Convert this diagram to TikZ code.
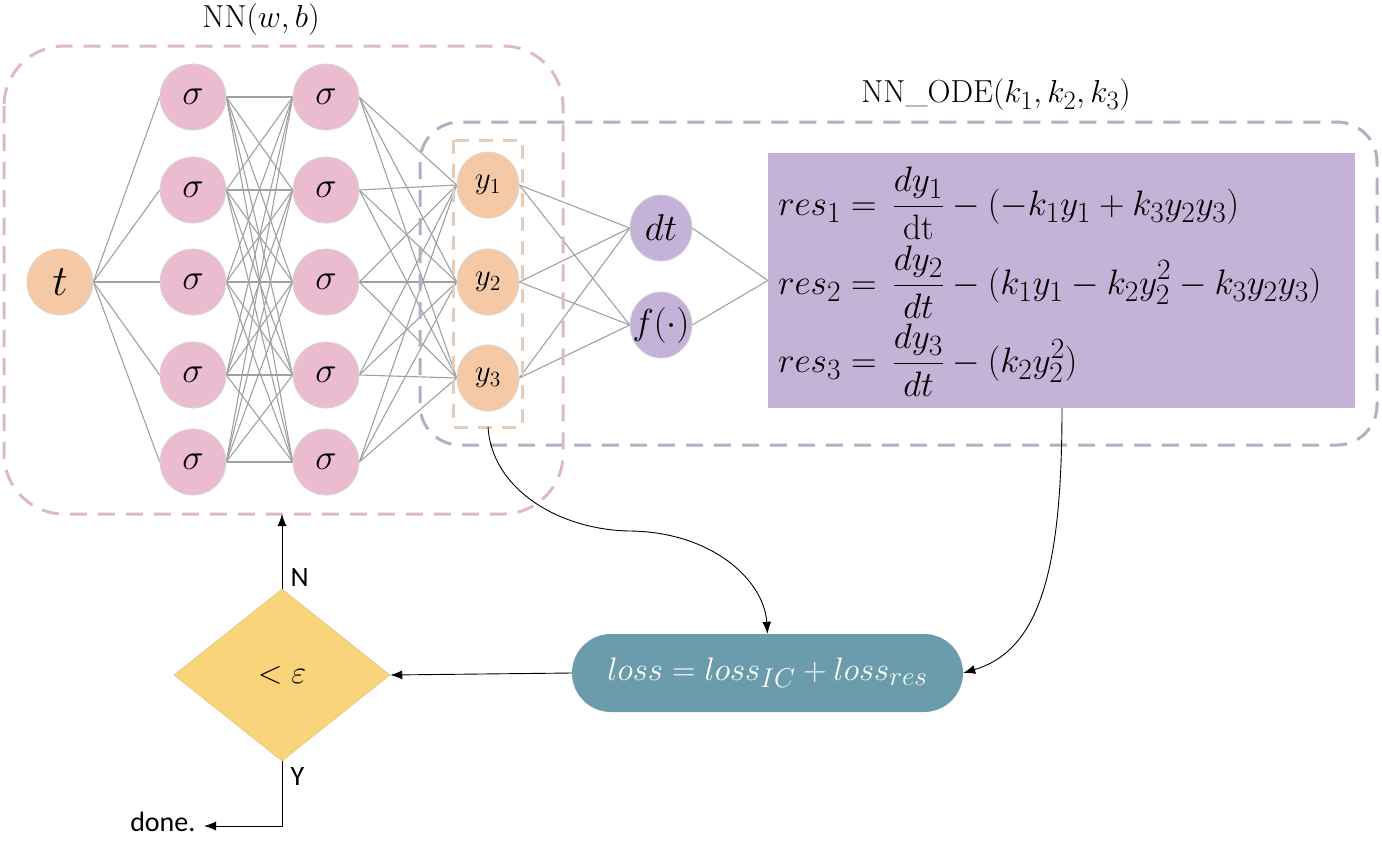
\documentclass[tikz,border=0pt]{standalone}
\usepackage{amsmath}
\usepackage{fontspec}
\setsansfont{Carlito}
\usetikzlibrary{shapes.geometric,arrows.meta}
\definecolor{pinkn}{HTML}{EBBCCF}
\definecolor{orangen}{HTML}{F5C9A6}
\definecolor{purplen}{HTML}{C5B2D8}
\definecolor{rectc}{HTML}{C4B3D6}
\definecolor{lossc}{HTML}{6B9CAB}
\definecolor{diac}{HTML}{F9D47A}
\definecolor{nnbox}{HTML}{DDB8C8}
\definecolor{odebox}{HTML}{B4ADC4}
\definecolor{ybox}{HTML}{E6CDB9}
\definecolor{wire}{HTML}{A0A0A0}
\tikzset{
  neuron/.style={circle,draw=white!85!black,line width=0.6pt,inner sep=0pt,minimum size=66pt,font=\fontsize{24.88}{28}\selectfont},
  sig/.style={neuron,fill=pinkn},
  inn/.style={neuron,fill=orangen},
  outn/.style={ellipse,draw=white!85!black,line width=0.6pt,fill=orangen,inner sep=0pt,minimum width=62pt,minimum height=66pt,font=\fontsize{20.74}{24}\selectfont},
  odn/.style={ellipse,draw=white!85!black,line width=0.6pt,fill=purplen,inner sep=0pt,minimum width=62pt,minimum height=66pt,font=\fontsize{24.88}{28}\selectfont},
  wireline/.style={draw=wire,line width=1.1pt},
  dashbox/.style={line width=3pt,dash pattern=on 17pt off 11pt},
  flow/.style={draw=black,line width=0.9pt,-{Latex[length=12pt,width=9pt]}},
  eq/.style={anchor=west,font=\fontsize{24.88}{28}\selectfont,inner sep=0pt},
  lbl/.style={font=\sffamily\fontsize{28}{32}\selectfont}
}
\newcommand{\Sg}{\scalebox{1.45}{$\sigma$}}
\newcommand{\Fdot}{\scalebox{1.45}{$f(\cdot)$}}
\begin{document}
\begin{tikzpicture}[x=1pt,y=-1pt]
\useasboundingbox (0,0) rectangle (1382,855);
% nodes
\node[inn] (t) at (60,282) {\scalebox{1.75}{$t$}};
\foreach \i/\yy in {1/97,2/190,3/282,4/375,5/462}{
  \node[sig] (a\i) at (193,\yy) {\Sg};
  \node[sig] (b\i) at (326,\yy) {\Sg};
}
\node[outn] (y1) at (488,185) {\scalebox{1.5}{$y_1$}};
\node[outn] (y2) at (488,282) {\scalebox{1.5}{$y_2$}};
\node[outn] (y3) at (488,378) {\scalebox{1.5}{$y_3$}};
\node[odn] (dt) at (661,228) {\scalebox{1.5}{$dt$}};
\node[odn,label={[font=\fontsize{24.88}{28}\selectfont,inner sep=0pt]center:\Fdot}] (f) at (661,325) {};
\node[draw=none,fill=rectc,minimum width=587pt,minimum height=255pt,inner sep=0pt] (res) at (1061.5,280.5) {};
% wires
\foreach \i in {1,...,5}{
  \draw[wireline] (t.east) -- (a\i.west);
  \foreach \j in {1,...,5}{ \draw[wireline] (a\i.east) -- (b\j.west); }
  \foreach \k in {1,2,3}{ \draw[wireline] (b\i.east) -- (y\k.west); }
}
\foreach \k in {1,2,3}{
  \draw[wireline] (y\k.east) -- (dt.west);
  \draw[wireline] (y\k.east) -- (f.west);
}
\draw[wireline] (dt.east) -- (res.west);
\draw[wireline] (f.east) -- (res.west);
% redraw nodes on top of wires
\node[inn] at (t) {\scalebox{1.75}{$t$}};
\foreach \i/\yy in {1/97,2/190,3/282,4/375,5/462}{
  \node[sig] at (193,\yy) {\Sg};
  \node[sig] at (326,\yy) {\Sg};
}
\node[outn] at (y1) {\scalebox{1.5}{$y_1$}};
\node[outn] at (y2) {\scalebox{1.5}{$y_2$}};
\node[outn] at (y3) {\scalebox{1.5}{$y_3$}};
\node[odn] at (dt) {\scalebox{1.5}{$dt$}};
\node[odn,label={[font=\fontsize{24.88}{28}\selectfont,inner sep=0pt]center:\Fdot}] at (f) {};
% equations
\node[eq] (eqs) at (778,282) {\scalebox{1.42}{$\setlength{\jot}{3pt}\begin{aligned}
res_1 &= \,\dfrac{dy_1}{\mathrm{dt}} - (-k_1y_1 + k_3y_2y_3)\\
res_2 &= \,\dfrac{dy_2}{dt} - (k_1y_1 - k_2y_2^2 - k_3y_2y_3)\\
res_3 &= \,\dfrac{dy_3}{dt} - (k_2y_2^2)
\end{aligned}$}};
% dashed boxes
\draw[dashbox,draw=odebox,rounded corners=40pt] (420,122) rectangle (1377,445);
\draw[dashbox,draw=nnbox,rounded corners=60pt] (4,46) rectangle (563,514);
\draw[dashbox,draw=ybox,dash pattern=on 14pt off 10pt] (453,140) rectangle (522,427);
\coordinate (ybot) at (488,427);
% titles
\node[font=\fontsize{24.88}{28}\selectfont] (t1) at (261,20) {\scalebox{1.28}{NN$(w,b)$}};
\node[font=\fontsize{24.88}{28}\selectfont] (t2) at (996,95) {\scalebox{1.28}{NN\_ODE$(k_1,k_2,k_3)$}};
% loss and decision
\node[draw=none,fill=lossc,rounded corners=39pt,minimum width=391pt,minimum height=78pt,inner sep=0pt,text=white,font=\fontsize{24.88}{30}\selectfont] (loss) at (767.5,673) {\scalebox{1.31}{$loss = loss_{IC} + loss_{res}$}};
\node[diamond,fill=diac,draw=diac!90!black,line width=0.5pt,inner sep=0pt,minimum width=216pt,minimum height=172pt,aspect=1.25,font=\fontsize{24.88}{32}\selectfont] (dec) at (282,675) {\scalebox{1.3}{$<\varepsilon$}};
\coordinate (nnb) at (282,514);
\coordinate (done) at (204,826);
\coordinate (corner) at (282,826);
% connectors
\draw[flow] (ybot) .. controls (492,490) and (560,530) .. (630,531) .. controls (712,532) and (764,580) .. (loss.north);
\draw[flow] (res.south -| 1062,0) .. controls (1062,570) and (1040,650) .. (loss.east);
\draw[flow] (loss.west) -- (dec.east);
\draw[flow] (dec.north) -- (nnb);
\draw[flow] (dec.south) -- (corner) -- (done);
\node[lbl,anchor=west] (N) at (287,578) {N};
\node[lbl,anchor=west] (Y) at (287,777) {Y};
\node[lbl,anchor=east] (dn) at (199,822) {done.};
\end{tikzpicture}
\end{document}
